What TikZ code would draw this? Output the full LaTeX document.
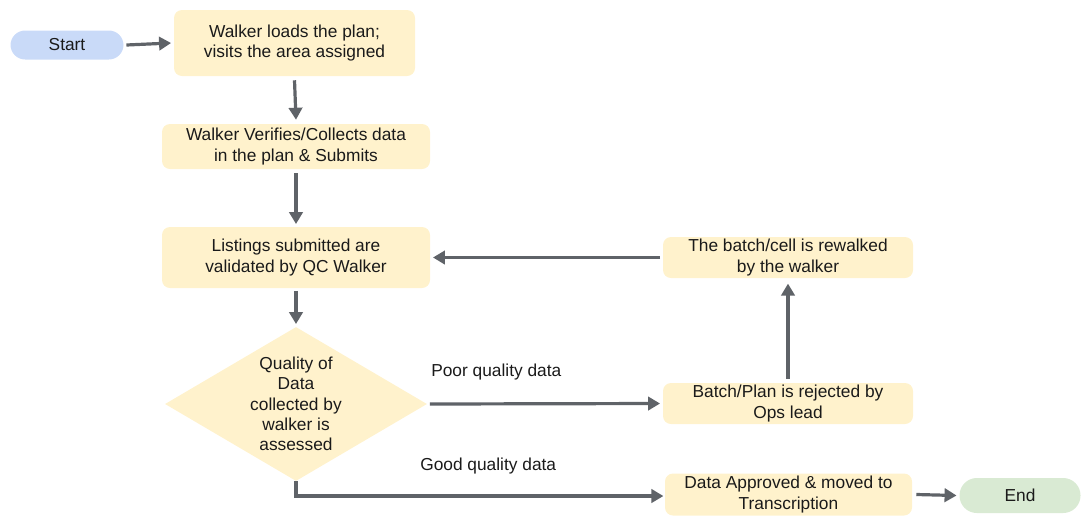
\documentclass[tikz,border=0pt]{standalone}
\usepackage{fontspec}
\setmainfont{Liberation Sans}
\usetikzlibrary{shapes.geometric,arrows.meta}
\definecolor{boxfill}{HTML}{FFF2CC}
\definecolor{startfill}{HTML}{C9DAF8}
\definecolor{endfill}{HTML}{D9EAD3}
\definecolor{arrowcol}{HTML}{5F6368}
\definecolor{txt}{HTML}{1A1A1A}
\tikzset{
  every node/.style={font=\fontsize{13}{15.2}\selectfont, text=txt},
  stepbox/.style={draw=none, fill=boxfill, rounded corners=6pt, align=center, inner sep=0pt},
  pill/.style={draw=none, rounded corners=11pt, inner sep=0pt},
  conn/.style={draw=arrowcol, line width=2.4pt, -{Triangle[length=9pt,width=10pt]}},
  lbl/.style={inner sep=0pt}
}
\begin{document}
\begin{tikzpicture}[x=0.75pt,y=-0.75pt]
\useasboundingbox (0,0) rectangle (1084,515);
\node[pill, fill=startfill, minimum width=113*0.75pt, minimum height=29*0.75pt] (start) at (67,45) {Start};
\node[stepbox, minimum width=241*0.75pt, minimum height=66*0.75pt] (load) at (294.5,43) {Walker loads the plan;\\visits the area assigned};
\node[stepbox, minimum width=268*0.75pt, minimum height=45*0.75pt] (collect) at (296,146.5) {Walker Verifies/Collects data\\in the plan \& Submits};
\node[stepbox, minimum width=268*0.75pt, minimum height=61*0.75pt] (valid) at (296,257.5) {Listings submitted are\\validated by QC Walker};
\node[diamond, fill=boxfill, inner sep=0pt, minimum width=262*0.75pt, minimum height=154*0.75pt] (qual) at (296,404) {};
\node[align=center, lbl] (qualtxt) at (296,404) {Quality of\\Data\\collected by\\walker is\\assessed};
\node[stepbox, minimum width=250*0.75pt, minimum height=41*0.75pt] (reject) at (788,403.5) {Batch/Plan is rejected by\\Ops lead};
\node[stepbox, minimum width=250*0.75pt, minimum height=41*0.75pt] (rewalk) at (788,257.5) {The batch/cell is rewalked\\by the walker};
\node[stepbox, minimum width=247*0.75pt, minimum height=42*0.75pt] (approve) at (788.5,494.5) {Data Approved \& moved to\\Transcription};
\node[pill, fill=endfill, minimum width=121*0.75pt, minimum height=35*0.75pt, rounded corners=13pt] (end) at (1020,495.5) {End};
\node[lbl, anchor=west] (poor) at (431,372) {Poor quality data};
\node[lbl, anchor=west] (good) at (420,466) {Good quality data};
\coordinate (corner) at (296,496);
\draw[conn] ([xshift=2pt]start.east) -- ([xshift=-2pt]load.west);
\draw[conn] ([yshift=-3pt]load.south) -- ([yshift=3pt]collect.north);
\draw[conn] ([yshift=-3pt]collect.south) -- ([yshift=2pt]valid.north);
\draw[conn] ([yshift=-2pt]valid.south) -- ([yshift=2pt]qual.north);
\draw[conn] ([xshift=2pt]qual.east) -- ([xshift=-2pt]reject.west);
\draw[conn] ([yshift=3pt]reject.north) -- ([yshift=-4pt]rewalk.south);
\draw[conn] ([xshift=-2pt]rewalk.west) -- ([xshift=2pt]valid.east);
\draw[conn] (qual.south) -- (corner) -- ([xshift=-1pt]approve.west |- corner);
\draw[conn] ([xshift=3pt]approve.east) -- ([xshift=-2pt]end.west);
\end{tikzpicture}
\end{document}
